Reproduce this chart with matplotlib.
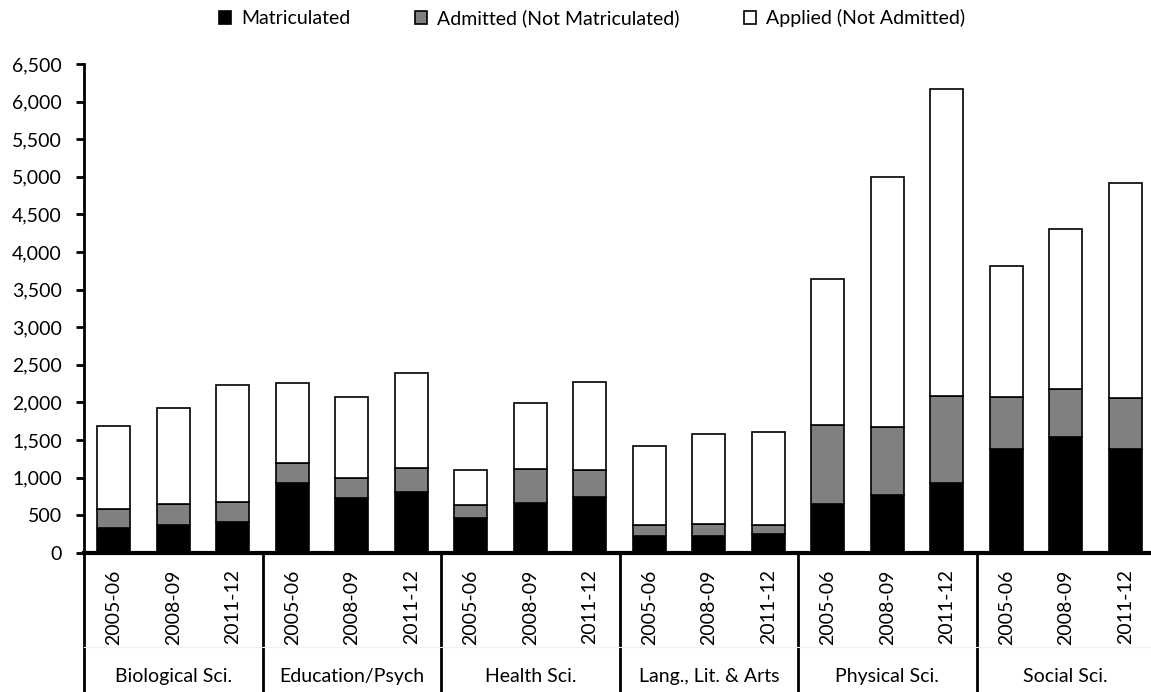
import matplotlib.pyplot as plt
import matplotlib.transforms as mtransforms
from matplotlib.ticker import FuncFormatter

plt.rcParams['font.family'] = ['Lato', 'DejaVu Sans']

# Fields, years and the three stacked pieces of each bar
fields = ["Biological Sci.", "Education/Psych", "Health Sci.",
          "Lang., Lit. & Arts", "Physical Sci.", "Social Sci."]
years = ["2005-06", "2008-09", "2011-12"]

matriculated = [335, 375, 405, 930, 725, 810, 465, 665, 745,
                225, 225, 250, 645, 765, 930, 1385, 1545, 1385]
admitted_not_matric = [250, 270, 275, 265, 265, 310, 170, 445, 355,
                       145, 155, 120, 1055, 905, 1160, 690, 635, 675]
applied_not_admitted = [1105, 1275, 1550, 1065, 1085, 1275, 465, 875, 1175,
                        1050, 1200, 1230, 1945, 3330, 4080, 1745, 2130, 2860]

n = len(matriculated)
x = list(range(n))
bottom2 = matriculated
bottom3 = [a + b for a, b in zip(matriculated, admitted_not_matric)]

fig = plt.figure(figsize=(11.51, 6.92), dpi=100)
ax = fig.add_axes([0.0730, 0.2013, 0.9305, 0.7062])

w = 0.555
ax.bar(x, matriculated, w, color='black', edgecolor='black', linewidth=1.2,
       label='Matriculated')
ax.bar(x, admitted_not_matric, w, bottom=bottom2, color='#808080',
       edgecolor='black', linewidth=1.2, label='Admitted (Not Matriculated)')
ax.bar(x, applied_not_admitted, w, bottom=bottom3, color='white',
       edgecolor='black', linewidth=1.2, label='Applied (Not Admitted)')

ax.set_xlim(-0.5, n - 0.5)
ax.set_ylim(0, 6500)
ax.set_yticks(range(0, 6501, 500))
ax.yaxis.set_major_formatter(FuncFormatter(lambda v, p: f"{int(v):,}"))
ax.tick_params(axis='y', labelsize=14, width=2, length=6, pad=10)
ax.set_xticks([])

for s in ['top', 'right']:
    ax.spines[s].set_visible(False)
ax.spines['left'].set_linewidth(2)
ax.spines['bottom'].set_linewidth(3)

# two-level category axis below the bars
trans = mtransforms.blended_transform_factory(ax.transData, ax.transAxes)
for i in x:
    ax.text(i, -0.111, years[i % 3], rotation=90, ha='center', va='center',
            fontsize=14, transform=trans)
for g, name in enumerate(fields):
    ax.text(3 * g + 1, -0.254, name, ha='center', va='center',
            fontsize=14, transform=trans)
for k in range(len(fields) + 1):
    ax.plot([3 * k - 0.5, 3 * k - 0.5], [0, -0.3], color='black', lw=2,
            transform=trans, clip_on=False)
ax.plot([-0.5, n - 0.5], [-0.193, -0.193], color='#f0f0f0', lw=0.8,
        transform=trans, clip_on=False)

fig.legend(loc='center', bbox_to_anchor=(592 / 1151, 1 - 18 / 692), ncol=3,
           frameon=False, fontsize=14, handlelength=0.65, handleheight=0.65,
           handletextpad=0.5, columnspacing=3.3)

fig.savefig('out.png', dpi=100)
